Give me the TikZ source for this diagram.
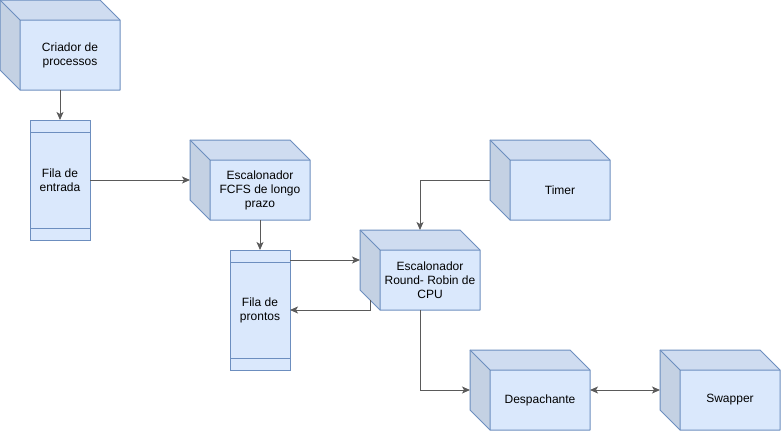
\documentclass[tikz,border=0pt]{standalone}
\usepackage{fontspec}
\setmainfont{Liberation Sans}
\usetikzlibrary{arrows.meta,backgrounds,calc}
\definecolor{frontc}{HTML}{DAE8FC}
\definecolor{topc}{HTML}{CFDCF0}
\definecolor{sidec}{HTML}{C4D1E3}
\definecolor{edgec}{HTML}{6C8EBF}
\definecolor{linkc}{HTML}{5A5A5A}
\begin{document}
\begin{tikzpicture}[x=1pt,y=-1pt,
  >={Stealth[length=8pt,width=7pt,inset=2pt]},
  cubebox/.style={minimum width=120pt, minimum height=80pt, inner sep=0pt, outer sep=0pt},
  cubetext/.style={font=\fontsize{12}{14}\selectfont, align=center, inner sep=0pt},
  queue/.style={draw=edgec, fill=frontc, line width=1pt, minimum width=60pt, minimum height=120pt,
    inner sep=0pt, outer sep=0pt, font=\fontsize{12}{14}\selectfont, align=center},
  link/.style={draw=linkc, line width=1pt, ->},
  edgeline/.style={draw=edgec, line width=1pt, line join=round}
  ]
\useasboundingbox (0,0) rectangle (781,431);

% cubes (outer bounding boxes)
\node[cubebox, minimum height=90pt] (c1) at (60,45) {};
\node[cubebox] (fcfs) at (250,180) {};
\node[cubebox] (rr) at (420,270) {};
\node[cubebox] (timer) at (550,180) {};
\node[cubebox] (desp) at (530,390) {};
\node[cubebox] (swap) at (720,390) {};

% cube texts (centred on front face)
\node[cubetext] (c1t) at ([xshift=10pt,yshift=-10pt]c1.center) {Criador de\\processos};
\node[cubetext] (fcfst) at ([xshift=10pt,yshift=-10pt]fcfs.center) {Escalonador\\FCFS de longo\\prazo};
\node[cubetext] (rrt) at ([xshift=10pt,yshift=-10pt]rr.center) {Escalonador\\Round- Robin de\\CPU};
\node[cubetext] (timert) at ([xshift=10pt,yshift=-10pt]timer.center) {Timer};
\node[cubetext] (despt) at ([xshift=10pt,yshift=-10pt]desp.center) {Despachante};
\node[cubetext] (swapt) at ([xshift=10pt,yshift=-10pt]swap.center) {Swapper};

% cube faces
\begin{scope}[on background layer]
\foreach \n in {c1,fcfs,rr,timer,desp,swap}{
  \fill[topc] (\n.north west) -- ([xshift=-20pt]\n.north east) -- ([yshift=-20pt]\n.north east)
     -- ([xshift=20pt,yshift=-20pt]\n.north west) -- cycle;
  \fill[sidec] (\n.north west) -- ([xshift=20pt,yshift=-20pt]\n.north west)
     -- ([xshift=20pt]\n.south west) -- ([yshift=20pt]\n.south west) -- cycle;
  \fill[frontc] ([xshift=20pt,yshift=-20pt]\n.north west) rectangle (\n.south east);
  \draw[edgeline] (\n.north west) -- ([xshift=-20pt]\n.north east) -- ([yshift=-20pt]\n.north east)
     -- (\n.south east) -- ([xshift=20pt]\n.south west) -- ([yshift=20pt]\n.south west) -- cycle;
  \draw[edgeline] (\n.north west) -- ([xshift=20pt,yshift=-20pt]\n.north west) -- ([yshift=-20pt]\n.north east)
     ([xshift=20pt,yshift=-20pt]\n.north west) -- ([xshift=20pt]\n.south west);
}
\end{scope}

% queues
\node[queue] (fe) at (60,180) {Fila de\\entrada};
\node[queue] (fp) at (260,310) {Fila de\\prontos};
\foreach \q in {fe,fp}{
  \draw[edgeline] ([yshift=-12pt]\q.north west) -- ([yshift=-12pt]\q.north east);
  \draw[edgeline] ([yshift=12pt]\q.south west) -- ([yshift=12pt]\q.south east);
}

% connectors
\draw[link] (c1.south) -- (fe.north);
\draw[link] (fe.east) -- (fcfs.west);
\draw[link] (fcfs.south -| fp.north) -- (fp.north);
\coordinate (a1) at ([yshift=-10pt]fp.north east);
\draw[link] (a1) -- (a1 -| rr.west);
\coordinate (a2) at ([xshift=10pt,yshift=10pt]rr.south west);
\draw[link] (a2) |- (fp.east);
\draw[link] (timer.west) -| (rr.north);
\draw[link] (rr.south) |- (desp.west);
\draw[link, <->] (desp.east) -- (swap.west);
\end{tikzpicture}
\end{document}
